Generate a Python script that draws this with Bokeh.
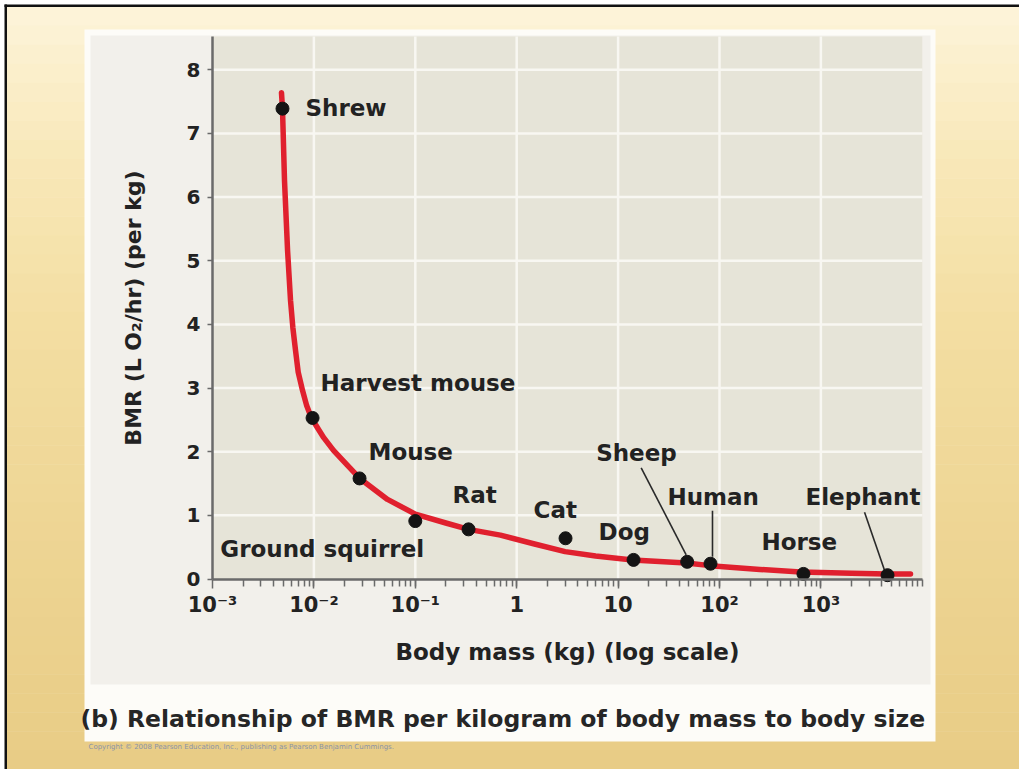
import numpy as np
from bokeh.plotting import figure
from bokeh.models import ColumnDataSource, Range1d, LogAxis, LinearAxis, FixedTicker
from bokeh.core.properties import value
from bokeh.embed import file_html
from bokeh.resources import INLINE

# ---------------- data ----------------
animals = ["Shrew", "Harvest mouse", "Mouse", "Ground squirrel", "Rat", "Cat",
           "Dog", "Sheep", "Human", "Horse", "Elephant"]
body_mass_kg = [0.0049, 0.0097, 0.0282, 0.100, 0.335, 3.03, 14.2, 48.0, 81.5, 673.0, 4540.0]
bmr_per_kg = [7.39, 2.53, 1.58, 0.91, 0.78, 0.64, 0.30, 0.27, 0.24, 0.08, 0.06]

curve_mass_kg = [0.00479, 0.0049, 0.00513, 0.0055, 0.00588, 0.0062, 0.00659, 0.0070,
                 0.00773, 0.0085, 0.00946, 0.011, 0.0125, 0.0156, 0.0210, 0.0288,
                 0.0532, 0.100, 0.200, 0.335, 0.69, 1.5, 3.0, 6.0, 13.9, 47.0, 81.0,
                 250.0, 630.0, 2000.0, 4440.0, 7650.0]
curve_bmr = [7.64, 7.39, 6.26, 5.16, 4.38, 3.95, 3.59, 3.25,
             2.96, 2.72, 2.53, 2.36, 2.22, 2.02, 1.80, 1.57,
             1.25, 1.02, 0.88, 0.78, 0.69, 0.55, 0.43, 0.36, 0.30, 0.25, 0.21,
             0.15, 0.11, 0.09, 0.08, 0.08]

x_tick_values = [1e-3, 1e-2, 1e-1, 1.0, 10.0, 100.0, 1000.0]
x_tick_labels = ["10⁻³", "10⁻²", "10⁻¹", "1", "10", "10²", "10³"]
y_tick_values = [0, 1, 2, 3, 4, 5, 6, 7, 8]

x_title = "Body mass (kg) (log scale)"
y_title = "BMR (L O₂/hr) (per kg)"
caption = "(b) Relationship of BMR per kilogram of body mass to body size"
copyright_note = "Copyright © 2008 Pearson Education, Inc., publishing as Pearson Benjamin Cummings."

# label placement (screen pixel offsets from each point) -- layout, not data
label_dx = [23, 8, 9, -195, -16, -32, -35, -91, -43, -42, -82]
label_dy = [-1, -35, -26, 28, -34, -28, -28, -109, -67, -32, -78]
leader_names = ["Sheep", "Human", "Elephant"]
leader_start = [(-46, -94), (2, -53), (-23, -63)]
leader_end = [(-1, -7), (2, -7), (-3, -5)]

# ---------------- page geometry (reference pixels) ----------------
W, H = 1019, 769
DEC = 101.4      # pixels per decade on the x axis
UNIT = 63.65     # pixels per unit on the y axis
RX0, RY0 = 212.0, 578.5   # reference pixel of the axes origin (1e-3, 0)


def X(rx):
    return 10 ** (-3 + (rx - RX0) / DEC)


def Y(ry):
    return (RY0 - ry) / UNIT


X_MIN, X_MAX = 1e-3, 1e4
Y_TOP = Y(36)

p = figure(width=W, height=H, x_axis_type="log", x_axis_location=None, y_axis_location=None,
           x_range=Range1d(X(0), X(W)), y_range=Range1d(Y(H), Y(0)),
           output_backend="svg", toolbar_location=None, min_border=0,
           background_fill_color="#ffffff", border_fill_color="#ffffff")
p.outline_line_color = None
p.grid.visible = False

# slide background gradient
stops = [(6, (253, 244, 218)), (160, (248, 232, 184)), (320, (243, 222, 162)),
         (560, (237, 212, 146)), (769, (232, 204, 133))]
edges = np.linspace(6, 769, 41)
cols = []
for a, b in zip(edges[:-1], edges[1:]):
    m = (a + b) / 2
    for (y0, c0), (y1, c1) in zip(stops[:-1], stops[1:]):
        if y0 <= m <= y1:
            t = (m - y0) / (y1 - y0)
            c = tuple(int(round(c0[i] + t * (c1[i] - c0[i]))) for i in range(3))
            cols.append("#%02x%02x%02x" % c)
            break
p.quad(left=X(6), right=X(W + 2), top=[Y(a) for a in edges[:-1]],
       bottom=[Y(b + 0.5) for b in edges[1:]], fill_color=cols, line_color=None)

# black frame lines of the slide
p.quad(left=X(4), right=X(W + 2), top=Y(4), bottom=Y(6.5),
       fill_color="#111111", line_color=None)
p.quad(left=X(4), right=X(6.5), top=Y(4), bottom=Y(H + 2),
       fill_color="#111111", line_color=None)

# white panel, grey chart panel, beige plotting area
p.quad(left=X(84), right=X(935), top=Y(29), bottom=Y(741), fill_color="#fdfcf8", line_color=None)
p.quad(left=X(90), right=X(930), top=Y(35), bottom=Y(684), fill_color="#f2f0eb", line_color=None)
p.quad(left=X_MIN, right=X_MAX, top=Y_TOP, bottom=0, fill_color="#e6e4d8", line_color=None)

# grid lines
grid_x = [t for t in x_tick_values if t > X_MIN]
p.segment(x0=grid_x, y0=0, x1=grid_x, y1=Y_TOP, line_color="#f8f7f2", line_width=2.5)
grid_y = [t for t in y_tick_values if t > 0]
p.segment(x0=X_MIN, y0=grid_y, x1=X_MAX, y1=grid_y, line_color="#f8f7f2", line_width=2.5)

# fitted curve
p.line(curve_mass_kg, curve_bmr, line_color="#e0202e", line_width=5.5, line_cap="round",
       line_join="round")

# leader lines
lx0, ly0, lx1, ly1 = [], [], [], []
for name, s, e in zip(leader_names, leader_start, leader_end):
    i = animals.index(name)
    lx0.append(body_mass_kg[i] * 10 ** (s[0] / DEC))
    ly0.append(bmr_per_kg[i] - s[1] / UNIT)
    lx1.append(body_mass_kg[i] * 10 ** (e[0] / DEC))
    ly1.append(bmr_per_kg[i] - e[1] / UNIT)
p.segment(x0=lx0, y0=ly0, x1=lx1, y1=ly1, line_color="#2a2a2a", line_width=1.6)

# points and labels
src = ColumnDataSource(dict(x=body_mass_kg, y=bmr_per_kg, name=animals, dx=label_dx, dy=label_dy))
p.scatter("x", "y", source=src, size=13, fill_color="#141414", line_color="#141414")
p.text("x", "y", text="name", x_offset="dx", y_offset="dy", source=src,
       text_font=value("DejaVu Sans"), text_font_style="bold", text_font_size="23px",
       text_align="left", text_baseline="middle", text_color="#222222")

# caption + copyright
p.text(x=[X(80)], y=[Y(718)], text=[caption], text_font=value("DejaVu Sans"),
       text_font_style="bold", text_font_size="23.5px", text_align="left",
       text_baseline="middle", text_color="#262626")
p.text(x=[X(88)], y=[Y(746)], text=[copyright_note], text_font=value("DejaVu Sans"),
       text_font_size="7px", text_align="left", text_baseline="middle", text_color="#8a93a6")

# axes
font = "DejaVu Sans"
xaxis = LogAxis(fixed_location=0, bounds=(X_MIN, X_MAX),
                ticker=FixedTicker(ticks=x_tick_values,
                                   minor_ticks=[m * d for d in [1e-3, 1e-2, 1e-1, 1, 10, 100, 1000]
                                                for m in range(2, 11)]),
                major_label_overrides={v: l for v, l in zip(x_tick_values, x_tick_labels)},
                axis_label=x_title)
yaxis = LinearAxis(fixed_location=X_MIN, bounds=(0, Y_TOP),
                   ticker=FixedTicker(ticks=y_tick_values), axis_label=y_title)
for ax in (xaxis, yaxis):
    ax.axis_line_color = "#6a6a6a"
    ax.axis_line_width = 2.5
    ax.major_tick_line_color = "#6a6a6a"
    ax.major_tick_line_width = 1.5
    ax.minor_tick_line_color = "#6a6a6a"
    ax.minor_tick_line_width = 1.5
    ax.major_tick_in = 0
    ax.minor_tick_in = 0
    ax.major_label_text_font = font
    ax.major_label_text_font_style = "bold"
    ax.major_label_text_color = "#222222"
    ax.axis_label_text_font = font
    ax.axis_label_text_font_style = "bold"
    ax.axis_label_text_color = "#222222"
xaxis.major_tick_out = 9
xaxis.minor_tick_out = 7
xaxis.major_label_text_font_size = "21px"
xaxis.major_label_standoff = 5
xaxis.axis_label_text_font_size = "23px"
xaxis.axis_label_standoff = 18
yaxis.major_tick_out = 5
yaxis.minor_tick_out = 0
yaxis.major_label_text_font_size = "20px"
yaxis.major_label_standoff = 7
yaxis.axis_label_text_font_size = "22px"
yaxis.axis_label_standoff = 38
p.add_layout(xaxis, "below")
p.add_layout(yaxis, "left")

open("out.html", "w").write(file_html(p, INLINE))
